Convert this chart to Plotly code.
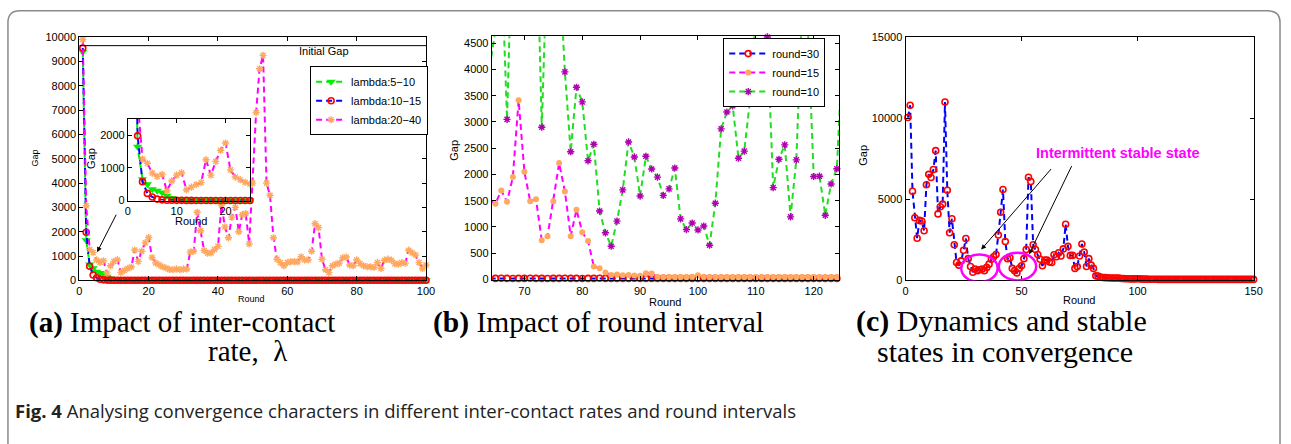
import numpy as np
import plotly.graph_objects as go

W, H = 1291, 444

# ---------------- data ----------------
rounds_a = list(range(1, 101))
gap_lambda_5_10 = [9400, 1650, 650, 500, 350, 300, 250, 150, 80, 50,
                   40, 30, 25, 22, 20, 18, 16, 15, 14, 13,
                   12, 12, 11, 11, 10, 10, 10, 11, 10, 10,
                   10, 10, 9, 10, 10, 9, 10, 10, 10, 9,
                   10, 10, 9, 10, 10, 10, 9, 10, 10, 10,
                   9, 10, 10, 10, 9, 10, 10, 10, 9, 10,
                   10, 10, 9, 10, 10, 10, 9, 10, 10, 10,
                   9, 10, 10, 10, 9, 10, 10, 10, 9, 10,
                   10, 10, 9, 10, 10, 10, 9, 10, 10, 10,
                   9, 10, 10, 10, 9, 10, 10, 10, 9, 10]
gap_lambda_10_15 = [9550, 1980, 580, 220, 110, 45, 22, 12, 10, 8,
                    7, 6, 6, 5, 5, 5, 5, 5, 5, 5,
                    5, 5, 5, 5, 5, 5, 5, 5, 5, 5,
                    5, 5, 5, 5, 5, 5, 5, 5, 5, 5,
                    5, 5, 5, 5, 5, 5, 5, 5, 5, 5,
                    5, 5, 5, 5, 5, 5, 5, 5, 5, 5,
                    5, 5, 5, 5, 5, 5, 5, 5, 5, 5,
                    5, 5, 5, 5, 5, 5, 5, 5, 5, 5,
                    5, 5, 5, 5, 5, 5, 5, 5, 5, 5,
                    5, 5, 5, 5, 5, 5, 5, 5, 5, 5]
gap_lambda_20_40 = [9900, 3070, 1270, 1140, 840, 740, 800, 300, 600, 780,
                    850, 330, 410, 490, 550, 1250, 780, 1200, 1540, 1760,
                    940, 720, 640, 560, 510, 450, 440, 470, 440, 460,
                    470, 1160, 1200, 2800, 2040, 1230, 1120, 1130, 1270, 1400,
                    3100, 2200, 1750, 2600, 3000, 2000, 2700, 2750, 1500, 4000,
                    6900, 8700, 9250, 4000, 3500, 1750, 870, 730, 600, 730,
                    770, 770, 760, 970, 840, 840, 1200, 2330, 2170, 870,
                    440, 330, 600, 670, 710, 930, 960, 630, 600, 840,
                    690, 600, 560, 560, 530, 730, 490, 830, 870, 830,
                    690, 670, 730, 710, 1240, 1130, 1040, 730, 490, 630]
initial_gap = 9650

rounds_b = list(range(64, 126))
gap_round30 = [20, 20, 22, 20, 18, 20, 20, 22, 20, 20,
               18, 20, 20, 22, 20, 20, 18, 20, 20, 22,
               20, 20, 18, 20, 20, 22, 20, 20, 18, 20,
               20, 20, 20, 20, 20, 20, 20, 20, 20, 20,
               20, 20, 20, 20, 20, 20, 20, 20, 20, 20,
               20, 20, 20, 20, 20, 20, 20, 20, 20, 20,
               20, 20]
gap_round15 = [1500, 1440, 1695, 1480, 1950, 3414, 2050, 1490, 1530, 745,
               825, 1490, 2216, 1676, 825, 1328, 900, 732, 248, 211,
               130, 85, 95, 80, 85, 75, 70, 120, 115, 45,
               45, 45, 45, 45, 45, 50, 80, 50, 45, 45,
               45, 45, 45, 45, 45, 45, 45, 45, 45, 45,
               45, 45, 45, 45, 45, 45, 45, 45, 45, 45,
               45, 45]
gap_round10 = [4050, 4750, 6200, 3050, 7000, 8000, 7500, 6800, 7300, 2900,
               6400, 7000, 6000, 3954, 2433, 3662, 3383, 2260, 2576, 1303,
               888, 633, 1111, 1707, 2619, 2334, 1589, 2346, 2104, 1949,
               1601, 1725, 2123, 1154, 950, 1074, 943, 1018, 652, 1452,
               2868, 3190, 3308, 2309, 2445, 3420, 5000, 5200, 4620, 1750,
               2290, 2563, 1192, 2278, 5200, 4800, 1961, 1967, 1222, 1818,
               2110, 4400]

rounds_c = list(range(1, 151))
gap_c = [10040, 10800, 5500, 3860, 2600, 3700, 3660, 3060, 5900, 6540,
         6340, 6840, 8000, 4100, 4540, 4700, 11000, 5560, 2940, 3800,
         2200, 1100, 940, 1200, 1860, 2580, 1340, 860, 500, 700,
         600, 660, 700, 600, 800, 1000, 1300, 1460, 1600, 2800,
         4200, 5600, 2400, 1340, 1400, 740, 600, 460, 740, 900,
         1340, 1900, 6360, 6100, 2200, 1900, 1600, 1300, 900, 1260,
         1260, 1140, 1100, 1580, 1460, 1700, 1500, 1940, 3460, 2100,
         1540, 1540, 740, 860, 1500, 2240, 1740, 860, 1340, 940,
         740, 280, 260, 200, 180, 170, 160, 150, 150, 140,
         150, 140, 120, 110, 100, 100, 90, 90, 90, 100,
         90, 80, 80, 80, 70, 70, 70, 70, 60, 60,
         60, 60, 60, 60, 60, 60, 60, 60, 60, 60,
         60, 60, 60, 60, 60, 60, 60, 60, 60, 60,
         60, 60, 60, 60, 60, 60, 60, 60, 60, 60,
         60, 60, 60, 60, 60, 60, 60, 60, 60, 60]

# ---------------- layout helpers ----------------
def px(x):
    return x / W


def py(y):
    return 1 - y / H


SANS = "Liberation Sans, Arial, sans-serif"
SERIF = "Liberation Serif, Times New Roman, serif"

fig = go.Figure()

RANGES = {
    ("x", "y"): ([0, 100], [0, 10000]),
    ("x2", "y2"): ([0, 25], [0, 2500]),
    ("x3", "y3"): ([64.35, 124.4], [-18, 4635]),
    ("x4", "y4"): ([0, 150], [0, 15000]),
}

DASH = "6px,4px"


def add_series(x, y, xa, ya, line, marker, name=None, legend=None):
    x = np.asarray(x, dtype=float)
    y = np.asarray(y, dtype=float)
    xr, yr = RANGES[(xa, ya)]
    fig.add_trace(go.Scatter(x=x, y=y, mode="lines", line=line, xaxis=xa, yaxis=ya,
                             showlegend=False, hoverinfo="skip"))
    m = (x >= xr[0]) & (x <= xr[1]) & (y >= yr[0]) & (y <= yr[1])
    fig.add_trace(go.Scatter(x=x[m], y=y[m], mode="markers", marker=marker, xaxis=xa, yaxis=ya,
                             showlegend=False, cliponaxis=False, hoverinfo="skip"))
    if name:
        fig.add_trace(go.Scatter(x=[None], y=[None], mode="lines+markers", line=line, marker=marker,
                                 name=name, legend=legend, xaxis=xa, yaxis=ya))


GREEN = "#00EE00"
BLUE = "#0000FF"
RED = "#FF0000"
MAG = "#FF00FF"
ORANGE = "#FFA860"
PURPLE = "#B000B0"

line_g = dict(color=GREEN, width=2, dash=DASH)
line_b = dict(color=BLUE, width=2, dash=DASH)
line_m = dict(color=MAG, width=2, dash=DASH)
mk_tri = dict(symbol="triangle-down", size=8, color=GREEN, line=dict(width=0))
mk_circ = dict(symbol="circle-open", size=6, color=RED, line=dict(width=1.6, color=RED))
mk_ast = dict(symbol="asterisk-open", size=6, color=ORANGE, line=dict(width=1.4, color=ORANGE))
mk_dot = dict(symbol="circle", size=6, color=ORANGE, line=dict(width=0))
mk_ast2 = dict(symbol="asterisk-open", size=6, color=PURPLE, line=dict(width=1.4, color=PURPLE))

# panel (a)
add_series(rounds_a, gap_lambda_5_10, "x", "y", line_g, mk_tri, "lambda:5\u221210", "legend")
add_series(rounds_a, gap_lambda_10_15, "x", "y", line_b, mk_circ, "lambda:10\u221215", "legend")
add_series(rounds_a, gap_lambda_20_40, "x", "y", line_m, mk_ast, "lambda:20\u221240", "legend")
# inset
add_series(rounds_a, gap_lambda_5_10, "x2", "y2", line_g, mk_tri)
add_series(rounds_a, gap_lambda_10_15, "x2", "y2", line_b, mk_circ)
add_series(rounds_a, gap_lambda_20_40, "x2", "y2", line_m, mk_ast)
# panel (b)
add_series(rounds_b, gap_round30, "x3", "y3", line_b, mk_circ, "round=30", "legend2")
add_series(rounds_b, gap_round15, "x3", "y3", line_m, mk_dot, "round=15", "legend2")
add_series(rounds_b, gap_round10, "x3", "y3", dict(color="#22DD22", width=2, dash=DASH), mk_ast2,
           "round=10", "legend2")
# panel (c)
add_series(rounds_c, gap_c, "x4", "y4", line_b, mk_circ)

axbase = dict(showline=True, linecolor="black", linewidth=1, mirror="ticks", ticks="inside",
              ticklen=4, tickcolor="black", tickwidth=1, showgrid=False, zeroline=False,
              tickformat="d", tickfont=dict(family=SANS, size=11, color="black"))


def dom(a, b):
    return [a, b]


fig.update_layout(
    width=W, height=H, margin=dict(l=0, r=0, t=0, b=0),
    paper_bgcolor="white", plot_bgcolor="white",
    xaxis=dict(axbase, domain=dom(px(77), px(427)), range=RANGES[("x", "y")][0],
               tickvals=[0, 20, 40, 60, 80, 100], anchor="y"),
    yaxis=dict(axbase, domain=dom(py(282), py(32)), range=RANGES[("x", "y")][1],
               tickvals=list(range(0, 10001, 1000)), anchor="x"),
    xaxis2=dict(axbase, domain=dom(px(126), px(249.3)), range=RANGES[("x2", "y2")][0],
                tickvals=[0, 10, 20], anchor="y2"),
    yaxis2=dict(axbase, domain=dom(py(200), py(116)), range=RANGES[("x2", "y2")][1],
                tickvals=[0, 1000, 2000], anchor="x2"),
    xaxis3=dict(axbase, domain=dom(px(493.3), px(844)), range=RANGES[("x3", "y3")][0],
                tickvals=[70, 80, 90, 100, 110, 120], anchor="y3"),
    yaxis3=dict(axbase, domain=dom(py(282), py(31)), range=RANGES[("x3", "y3")][1],
                tickvals=list(range(0, 4501, 500)), anchor="x3"),
    xaxis4=dict(axbase, domain=dom(px(911), px(1262.3)), range=RANGES[("x4", "y4")][0],
                tickvals=[0, 50, 100, 150], anchor="y4"),
    yaxis4=dict(axbase, domain=dom(py(282), py(32)), range=RANGES[("x4", "y4")][1],
                tickvals=[0, 5000, 10000, 15000], anchor="x4"),
    legend=dict(x=px(310), y=py(62), xanchor="left", yanchor="top",
                bordercolor="black", borderwidth=1, bgcolor="white",
                font=dict(family=SANS, size=11, color="black"), tracegroupgap=0),
    legend2=dict(x=px(727), y=py(33), xanchor="left", yanchor="top",
                 bordercolor="black", borderwidth=1, bgcolor="white", itemwidth=38,
                 entrywidth=104, entrywidthmode="pixels",
                 font=dict(family=SANS, size=11, color="black"), tracegroupgap=0),
    showlegend=True,
)

shapes = []
# initial gap line
shapes.append(dict(type="line", xref="x", yref="y", x0=0, x1=100, y0=initial_gap, y1=initial_gap,
                   line=dict(color="black", width=1)))
# ellipses in panel (c)
shapes.append(dict(type="circle", xref="x4", yref="y4", x0=24, x1=39.7, y0=-100, y1=1600,
                   line=dict(color=MAG, width=2.5)))
shapes.append(dict(type="circle", xref="x4", yref="y4", x0=40.2, x1=56.3, y0=0, y1=1700,
                   line=dict(color=MAG, width=2.5)))
# outer rounded border
r = 12
L, T, R, B = 5, 5, 1289, 470


def P(x, y):
    return f"{px(x):.5f},{py(y):.5f}"


path = (f"M{P(L, B)} L{P(L, T + r)} Q{P(L, T)} {P(L + r, T)} L{P(R - r, T)} "
        f"Q{P(R, T)} {P(R, T + r)} L{P(R, B)}")
shapes.append(dict(type="path", xref="paper", yref="paper", path=path,
                   line=dict(color="#8a8a8a", width=1.5)))
fig.update_layout(shapes=shapes)

ann = []


def label(text, x, y, size=11, angle=0, family=SANS, color="black", xanchor="center"):
    ann.append(dict(text=text, x=px(x), y=py(y), xref="paper", yref="paper", showarrow=False,
                    xanchor=xanchor, yanchor="middle", textangle=angle,
                    font=dict(family=family, size=size, color=color)))


label("Gap", 32, 156, size=9, angle=-90)
label("Round", 251, 301, size=9)
label("Gap", 89, 157, size=11, angle=-90)
label("Round", 190, 221, size=11)
label("Gap", 455, 148, size=11, angle=-90)
label("Round", 668, 304, size=11)
label("Gap", 868, 153, size=11, angle=-90)
label("Round", 1086, 302, size=11)

ann.append(dict(text="Initial Gap", x=70.6, y=9410, xref="x", yref="y", showarrow=False,
                font=dict(family=SANS, size=11, color="black")))
ann.append(dict(text="", x=5.14, y=1160, ax=10.86, ay=2760, xref="x", yref="y", axref="x", ayref="y",
                showarrow=True, arrowhead=2, arrowsize=1, arrowwidth=1, arrowcolor="black"))
ann.append(dict(text="", x=32.6, y=1900, ax=63.3, ay=6960, xref="x4", yref="y4", axref="x4",
                ayref="y4", showarrow=True, arrowhead=2, arrowsize=1, arrowwidth=1, arrowcolor="black"))
ann.append(dict(text="", x=53.2, y=1600, ax=71.9, ay=7140, xref="x4", yref="y4", axref="x4",
                ayref="y4", showarrow=True, arrowhead=2, arrowsize=1, arrowwidth=1, arrowcolor="black"))
ann.append(dict(text="<b>Intermittent stable state</b>", x=91.4, y=7860, xref="x4", yref="y4",
                showarrow=False, font=dict(family=SANS, size=14.5, color=MAG)))

# captions
CAP = 29
label("<b>(a)</b> Impact of inter-contact", 181, 325, size=CAP, family=SERIF)
label("rate,\u00a0 \u03bb", 247, 355, size=CAP, family=SERIF)
label("<b>(b)</b> Impact of round interval", 601, 325, size=CAP + 0.5, family=SERIF)
label("<b>(c)</b> Dynamics and stable", 1008, 324, size=CAP + 1, family=SERIF)
label("states in convergence", 1011, 355, size=CAP + 1, family=SERIF)
label("<b>Fig. 4</b> Analysing convergence characters in different inter-contact rates and round intervals",
      10, 416, size=18.5, family="Open Sans, Noto Sans, sans-serif", color="#222222", xanchor="left")

fig.update_layout(annotations=ann)

fig.write_html("out.html", config={"displayModeBar": False},
               post_script="document.body.style.margin='0';document.body.style.overflow='hidden';")
